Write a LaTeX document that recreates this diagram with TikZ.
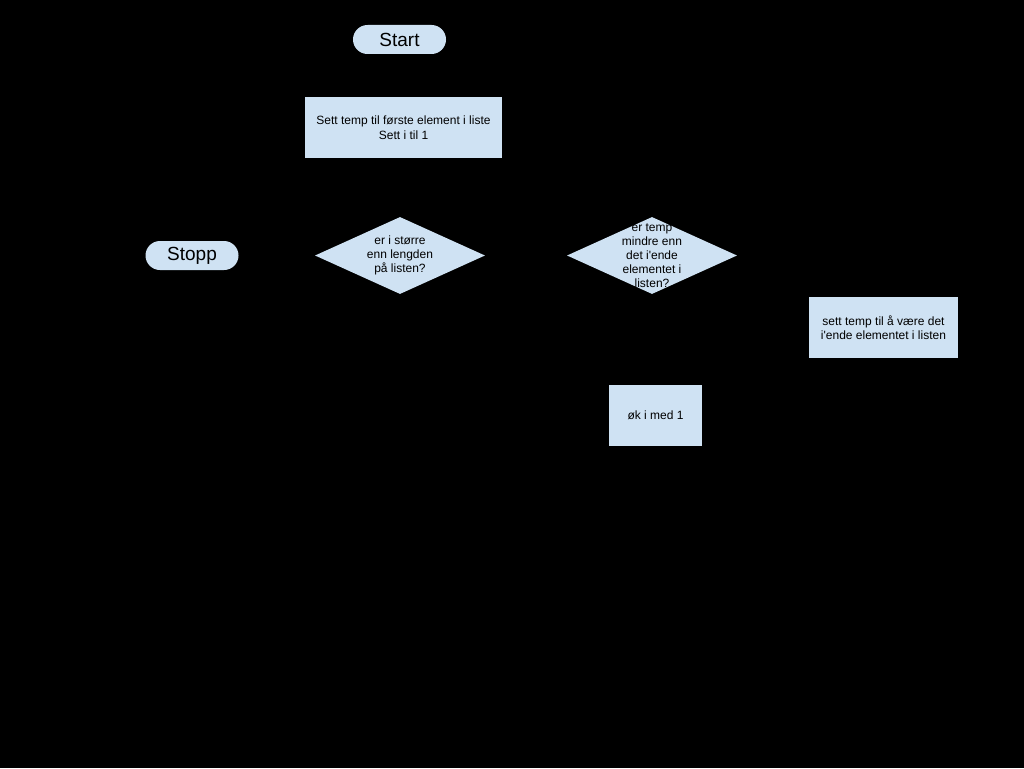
\documentclass[tikz,border=0pt]{standalone}
\usepackage{fontspec}
\setmainfont{Liberation Sans}
\usepackage{xcolor}
\usetikzlibrary{shapes.geometric}
\definecolor{boxblue}{RGB}{207,226,243}
\tikzset{
  terminal/.style={
    rectangle,
    fill=boxblue,
    rounded corners=14.5pt,
    minimum width=93pt,
    minimum height=29pt,
    inner sep=0pt,
    font=\fontsize{19}{21}\selectfont},
  process/.style={
    rectangle,
    fill=boxblue,
    minimum height=61pt,
    inner sep=0pt,
    align=center,
    font=\fontsize{12}{15}\selectfont},
  decision/.style={
    diamond,
    fill=boxblue,
    minimum width=170pt,
    minimum height=77pt,
    inner sep=0pt},
  decisiontext/.style={
    align=center,
    inner sep=0pt,
    font=\fontsize{12}{14}\selectfont}
  }
\begin{document}
\begin{tikzpicture}[x=1pt,y=-1pt]
		\fill [black] (0,0) rectangle (1024,768);
		\useasboundingbox (0,0) rectangle (1024,768);
		\node [terminal] (start) at (399.5,39.5) {Start};
		\node [process, minimum width=197pt] (init) at (403.5,127.5) {Sett temp til første element i liste\\Sett i til 1};
		\node [terminal] (stopp) at (192,255.5) {Stopp};
		\node [decision] (lenq) at (400,255.5) {};
		\node [decisiontext] at (lenq) {er i større\\enn lengden\\på listen?};
		\node [decision] (tempq) at (652,255.5) {};
		\node [decisiontext] at (tempq) {er temp\\mindre enn\\det i\textquotesingle ende\\elementet i\\listen?};
		\node [process, minimum width=149pt, font=\fontsize{12}{13.5}\selectfont] (settemp) at (883.5,327.5) {sett temp til å være det\\i\textquotesingle ende elementet i listen};
		\node [process, minimum width=93pt] (inc) at (655.5,415.5) {øk i med 1};
	\end{tikzpicture}
\end{document}
